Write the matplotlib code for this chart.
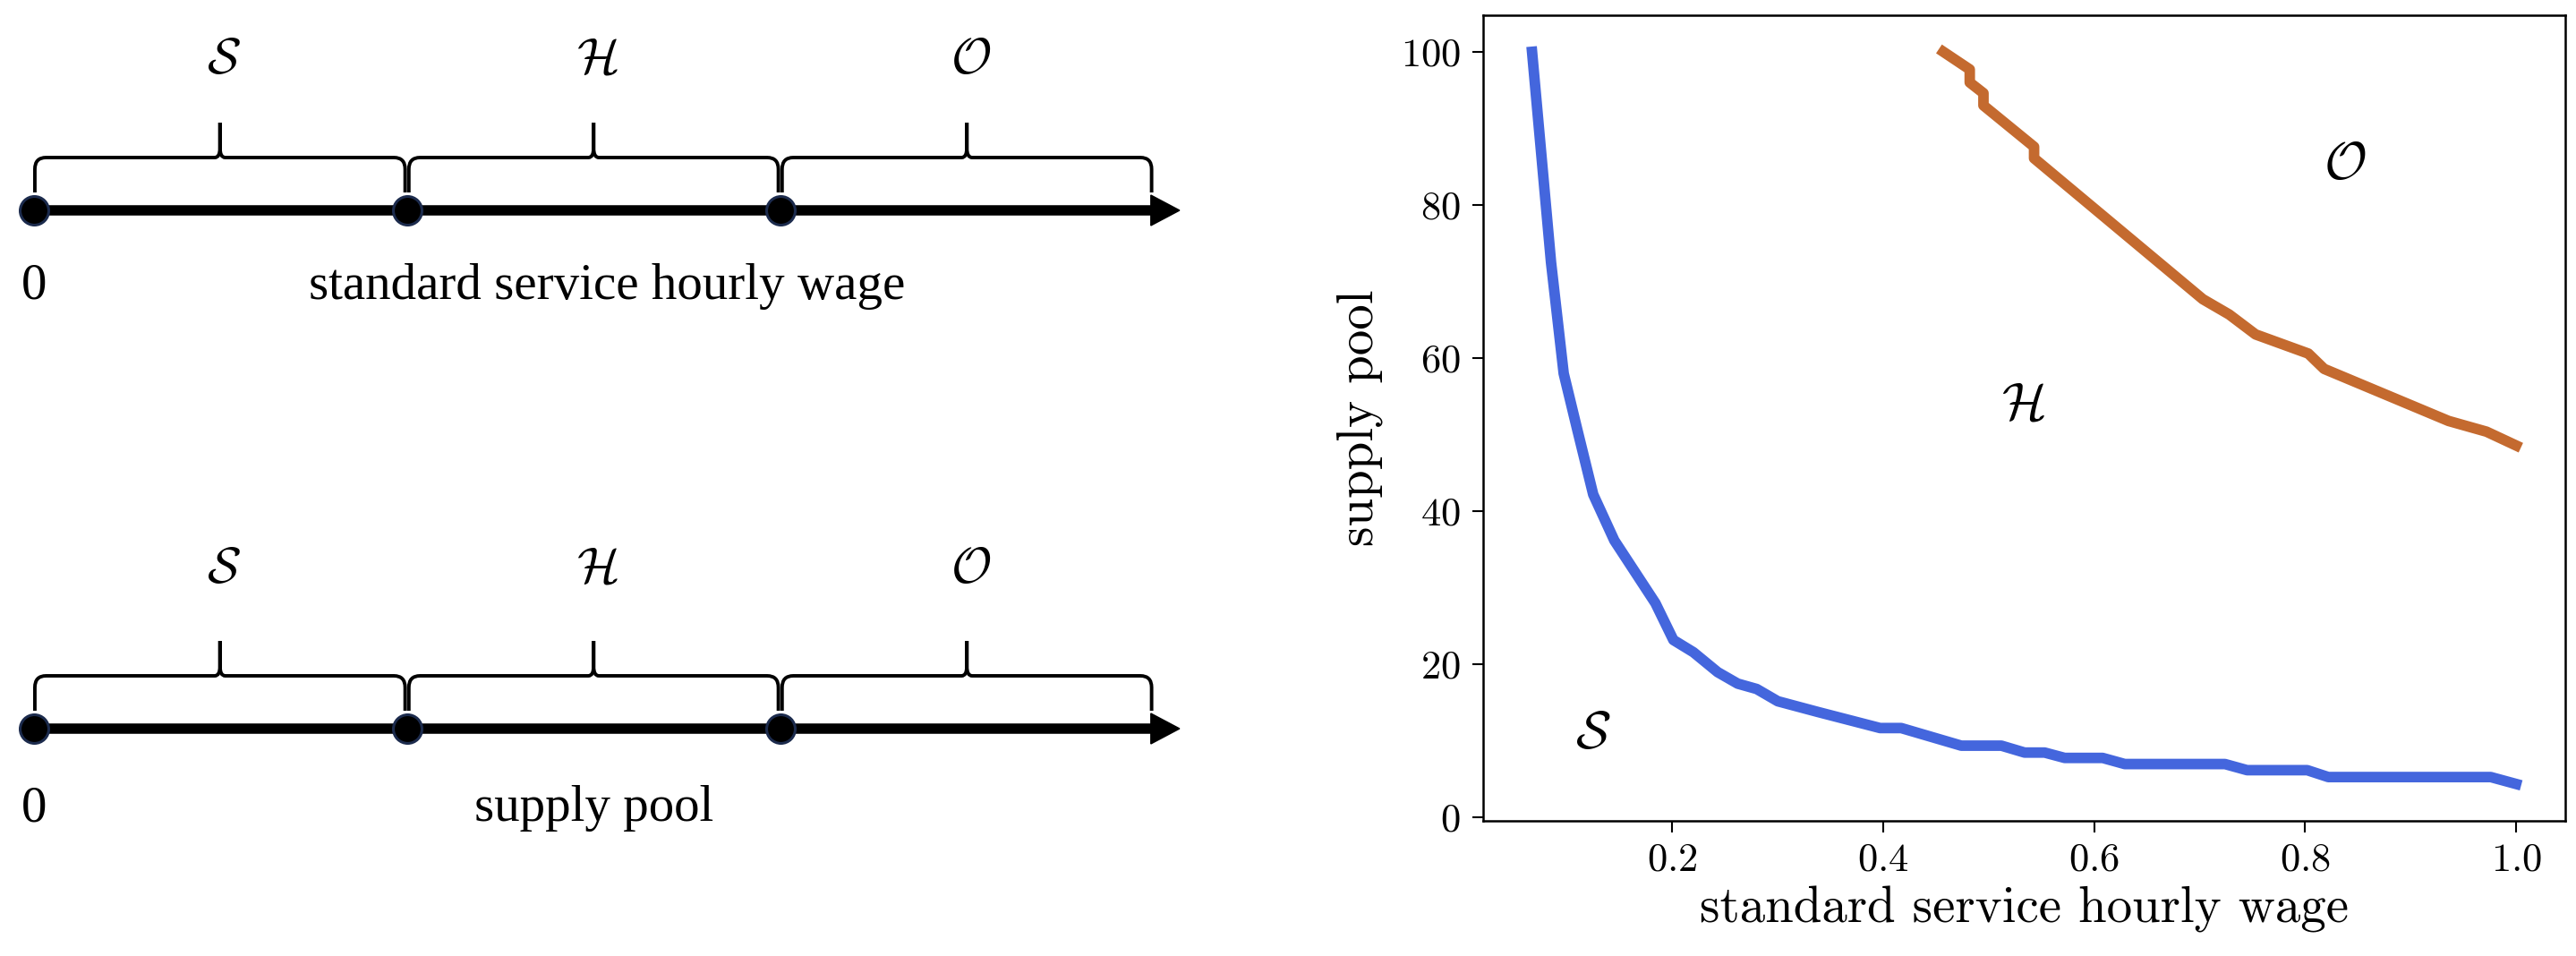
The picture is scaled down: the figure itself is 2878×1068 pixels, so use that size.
import matplotlib
matplotlib.use("Agg")
import matplotlib.pyplot as plt
from matplotlib.path import Path
from matplotlib.patches import PathPatch, Polygon

# 圖中數值
region_labels = [r"$\mathcal{S}$", r"$\mathcal{H}$", r"$\mathcal{O}$"]
bounds = [0, 1, 2, 3]            # 三段區間的分界
axis_titles = ["standard service hourly wage", "supply pool"]

blue_x = [0.067, 0.085, 0.097, 0.110, 0.125, 0.145, 0.184, 0.201, 0.220, 0.243,
          0.262, 0.280, 0.300, 0.338, 0.397, 0.417, 0.474, 0.512, 0.534, 0.553,
          0.572, 0.608, 0.629, 0.724, 0.745, 0.802, 0.822, 0.976, 1.000]
blue_y = [100, 72.5, 58.0, 50.6, 42.2, 36.2, 28.0, 23.2, 21.6, 19.0,
          17.5, 16.8, 15.2, 13.8, 11.7, 11.7, 9.4, 9.4, 8.5, 8.5,
          7.8, 7.8, 7.0, 7.0, 6.2, 6.2, 5.3, 5.3, 4.4]

orange_x = [0.457, 0.482, 0.482, 0.495, 0.495, 0.543, 0.543, 0.703, 0.728,
            0.753, 0.803, 0.818, 0.936, 0.972, 1.000]
orange_y = [100, 97.7, 96.0, 94.6, 93.0, 87.6, 86.1, 67.7, 65.7,
            63.1, 60.6, 58.6, 51.8, 50.4, 48.6]

plt.rcParams["mathtext.fontset"] = "cm"
plt.rcParams["font.family"] = "cmr10"
plt.rcParams["axes.formatter.use_mathtext"] = True

W, H = 2878, 1068
fig = plt.figure(figsize=(W / 100, H / 100), dpi=100)

# ---- 左邊：兩條數線示意圖 ----
ax0 = fig.add_axes([0, 0, 1400 / W, 1])
unit = 417.0   # 每段的像素寬
ax0.set_xlim(-37.7 / unit, (1400 - 37.7) / unit)
ax0.set_ylim(H, 0)
ax0.axis("off")

serif = "Liberation Serif"


def draw_brace(ax, a, b, y_line):
    yb = y_line - 20
    yh = y_line - 59
    yt = y_line - 98
    m = (a + b) / 2
    rx, ry = 0.03, 13
    tx, ty = 0.014, 11
    verts = [(a, yb), (a, yh + ry), (a, yh), (a + rx, yh), (m - tx, yh), (m, yh),
             (m, yh - ty), (m, yt), (m, yh - ty), (m, yh), (m + tx, yh),
             (b - rx, yh), (b, yh), (b, yh + ry), (b, yb)]
    codes = [Path.MOVETO, Path.LINETO, Path.CURVE3, Path.CURVE3, Path.LINETO,
             Path.CURVE3, Path.CURVE3, Path.LINETO, Path.LINETO, Path.CURVE3,
             Path.CURVE3, Path.LINETO, Path.CURVE3, Path.CURVE3, Path.LINETO]
    ax.add_patch(PathPatch(Path(verts, codes), fill=False, lw=2.8,
                           edgecolor="black", capstyle="butt"))


rows = [(235, 68, 320, 1.535), (814, 637, 903, 1.5)]
for (y_line, y_lab, y_txt, x_txt), title in zip(rows, axis_titles):
    ax0.plot([bounds[0], bounds[-1] - 0.007], [y_line, y_line], color="black",
             lw=8.3, solid_capstyle="butt", zorder=2)
    ax0.add_patch(Polygon([(2.993, y_line - 17), (3.07, y_line), (2.993, y_line + 17)],
                          closed=True, color="black", zorder=2))
    ax0.plot(bounds[:-1], [y_line] * 3, "o", ms=23, mfc="black",
             mec="#1c2b4d", mew=2.2, zorder=3)
    for i, lab in enumerate(region_labels):
        a = bounds[i] + (0.005 if i > 0 else 0.003)
        b = bounds[i + 1] - 0.005
        draw_brace(ax0, a, b, y_line)
        ax0.text((a + b) / 2 + 0.01, y_lab, lab, fontsize=40, ha="center", va="center")
    ax0.text(0, y_txt, "0", fontsize=41, family=serif, ha="center", va="center")
    ax0.text(x_txt, y_txt, title, fontsize=41, family=serif, ha="center", va="center")

# ---- 右邊：曲線圖 ----
ax = fig.add_axes([1656.7 / W, 1 - 916.7 / H, (2866 - 1656.7) / W, (916.7 - 17) / H])
ax.plot(blue_x, blue_y, color="#4466dd", lw=8.5)
ax.plot(orange_x, orange_y, color="#c46a2f", lw=8.5)

ax.text(0.125, 10.7, r"$\mathcal{S}$", fontsize=42, ha="center", va="center")
ax.text(0.533, 53.8, r"$\mathcal{H}$", fontsize=42, ha="center", va="center")
ax.text(0.838, 85.1, r"$\mathcal{O}$", fontsize=42, ha="center", va="center")

ax.set_xticks([0.2, 0.4, 0.6, 0.8, 1.0])
ax.set_yticks([0, 20, 40, 60, 80, 100])
ax.tick_params(labelsize=32, length=9, width=1.5, pad=9, direction="out")
for s in ax.spines.values():
    s.set_linewidth(1.8)
ax.set_xlabel("standard service hourly wage", fontsize=41, labelpad=6)
ax.set_ylabel("supply pool", fontsize=41, labelpad=14)

fig.savefig("out.png", dpi=100)
